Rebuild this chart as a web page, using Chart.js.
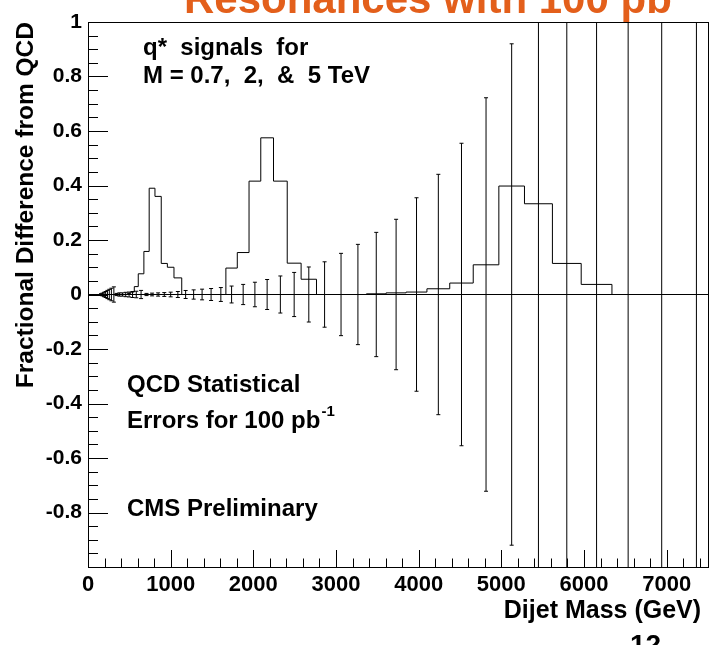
<!DOCTYPE html>
<html>
<head>
<meta charset="utf-8">
<title>q* signals - fractional difference from QCD</title>
<script src="https://cdn.jsdelivr.net/npm/chart.js@4.4.0/dist/chart.umd.min.js"></script>
<style>
    html, body { margin: 0; padding: 0; background: #fff; overflow: hidden; }
    #wrap { position: relative; width: 713px; height: 645px; overflow: hidden; }
</style>
</head>
<body>
<div id="wrap"><canvas id="chartCanvas" width="713" height="645"></canvas></div>
<script>
// dijet mass bin edges (GeV)
const binEdges = [150, 166, 184, 203, 224, 246, 270, 296, 330, 362, 398, 436, 476, 518, 560,
    608, 676, 740, 810, 886, 960, 1040, 1134, 1228, 1328, 1432, 1546, 1668, 1806, 1948, 2090,
    2244, 2410, 2578, 2764, 2960, 3162, 3368, 3606, 3848, 4100, 4376, 4660, 4970, 5280, 5618,
    5966, 6338, 6730, 7150, 7570];

// QCD statistical error for 100 pb^-1, one per bin
const qcdErrors = [0.003, 0.005, 0.008, 0.011, 0.015, 0.019, 0.023, 0.028,
    0.004, 0.006, 0.006, 0.008, 0.009, 0.011, 0.012, 0.015,
    0.004, 0.005, 0.006, 0.007,
    0.0086, 0.011, 0.0147, 0.017, 0.0196, 0.022, 0.0255,
    0.031, 0.037, 0.045, 0.055, 0.068, 0.081, 0.101, 0.120, 0.151, 0.184,
    0.228, 0.276, 0.355, 0.441, 0.555, 0.722, 0.920,
    1.2, 1.5, 2.0, 2.6, 3.5, 4.5];

// q* signals (fractional difference), starting at the given bin index
const qstar07Start = 12;
const qstar07 = [0.004, 0.009, 0.029, 0.076, 0.158, 0.390, 0.360, 0.114, 0.100, 0.061];
const qstar2Start = 27;
const qstar2 = [0.097, 0.154, 0.416, 0.575, 0.416, 0.115, 0.056];
const qstar5Start = 37;
const qstar5 = [0.0025, 0.006, 0.009, 0.021, 0.042, 0.109, 0.398, 0.333, 0.114, 0.037];

const xTickValues = [0, 1000, 2000, 3000, 4000, 5000, 6000, 7000];
const yTickValues = [-0.8, -0.6, -0.4, -0.2, 0, 0.2, 0.4, 0.6, 0.8, 1];

const FONT = '"Liberation Sans", Arial, Helvetica, sans-serif';

function binCenters() {
    return binEdges.slice(0, -1).map((e, i) => (e + binEdges[i + 1]) / 2);
}

// step outline of a histogram, closed down to zero at both ends
function histogramPoints(values, start) {
    const pts = [{ x: binEdges[start], y: 0 }];
    values.forEach((v, k) => pts.push({ x: binEdges[start + k], y: v }));
    pts.push({ x: binEdges[start + values.length], y: 0 });
    return pts;
}

function errorBarPoints() {
    const pts = [];
    binCenters().forEach((c, i) => {
        pts.push({ x: c, y: -qcdErrors[i] }, { x: c, y: qcdErrors[i] }, { x: c, y: null });
    });
    return pts;
}

function errorCapPoints() {
    const pts = [];
    binCenters().forEach((c, i) => {
        if (qcdErrors[i] < 1) pts.push({ x: c, y: -qcdErrors[i] }, { x: c, y: qcdErrors[i] });
    });
    return pts;
}

// ROOT style frame with ticks pointing inwards
const rootFrame = {
    id: 'rootFrame',
    afterDatasetsDraw(chart) {
        const { ctx, chartArea: a, scales: { x, y } } = chart;
        ctx.save();
        ctx.strokeStyle = '#000';
        ctx.lineWidth = 1;
        ctx.beginPath();
        for (let v = 0; v <= x.max; v += 200) {
            const px = Math.round(x.getPixelForValue(v)) + 0.5;
            const len = v % 1000 === 0 ? 17 : 8.5;
            ctx.moveTo(px, a.bottom);
            ctx.lineTo(px, a.bottom - len);
        }
        for (let i = -20; i <= 20; i++) {
            const py = Math.round(y.getPixelForValue(i * 0.05)) + 0.5;
            const len = i % 4 === 0 ? 20 : 10;
            ctx.moveTo(a.left, py);
            ctx.lineTo(a.left + len, py);
        }
        ctx.stroke();
        ctx.strokeRect(Math.round(a.left) + 0.5, Math.round(a.top) + 0.5,
            a.right - a.left, Math.round(a.bottom - a.top));
        ctx.restore();
    }
};

// text written inside the pad, plus the slide title / page number around it
const annotations = {
    id: 'annotations',
    afterDraw(chart) {
        const { ctx, chartArea: a } = chart;
        ctx.save();
        ctx.fillStyle = '#000';
        ctx.textBaseline = 'alphabetic';
        ctx.textAlign = 'left';
        ctx.font = `bold 24px ${FONT}`;
        ctx.fillText('q*  signals  for', a.left + 55, a.top + 33);
        ctx.fillText('M = 0.7,  2,  &  5 TeV', a.left + 55, a.top + 61);
        ctx.fillText('QCD Statistical', a.left + 39, a.top + 370);
        const line = 'Errors for 100 pb';
        ctx.fillText(line, a.left + 39, a.top + 406);
        const w = ctx.measureText(line).width;
        ctx.font = `bold 15px ${FONT}`;
        ctx.fillText('-1', a.left + 40 + w, a.top + 394);
        ctx.font = `bold 24px ${FONT}`;
        ctx.fillText('CMS Preliminary', a.left + 39, a.top + 494);

        ctx.fillStyle = '#E35F1B';
        ctx.font = `bold 42px ${FONT}`;
        ctx.fillText('Resonances with 100 pb', 184, 13);

        ctx.fillStyle = '#000';
        ctx.font = `bold 28px ${FONT}`;
        ctx.fillText('12', 630, 654);
        ctx.restore();
    }
};

const ctx = document.getElementById('chartCanvas').getContext('2d');

new Chart(ctx, {
    type: 'line',
    data: {
        datasets: [
            {
                label: 'QCD errors',
                data: errorBarPoints(),
                borderColor: '#000',
                borderWidth: 1,
                pointRadius: 0,
                spanGaps: false
            },
            {
                label: 'QCD error caps',
                type: 'scatter',
                data: errorCapPoints(),
                showLine: false,
                pointStyle: 'line',
                pointRadius: 2,
                borderColor: '#000',
                borderWidth: 1
            },
            {
                label: 'q* 0.7 TeV',
                data: histogramPoints(qstar07, qstar07Start),
                borderColor: '#000',
                borderWidth: 1,
                pointRadius: 0,
                stepped: 'before'
            },
            {
                label: 'q* 2 TeV',
                data: histogramPoints(qstar2, qstar2Start),
                borderColor: '#000',
                borderWidth: 1,
                pointRadius: 0,
                stepped: 'before'
            },
            {
                label: 'q* 5 TeV',
                data: histogramPoints(qstar5, qstar5Start),
                borderColor: '#000',
                borderWidth: 1,
                pointRadius: 0,
                stepped: 'before'
            }
        ]
    },
    options: {
        animation: false,
        responsive: false,
        maintainAspectRatio: false,
        layout: { padding: { top: 22, right: 0, bottom: 0, left: 0 } },
        plugins: {
            legend: { display: false },
            tooltip: { enabled: false }
        },
        scales: {
            x: {
                type: 'linear',
                min: 0,
                max: 7500,
                afterBuildTicks: (scale) => { scale.ticks = xTickValues.map(v => ({ value: v })); },
                afterFit: (scale) => { scale.height = 78; },
                grid: { display: false, drawTicks: false },
                border: { display: false },
                ticks: {
                    padding: 5,
                    color: '#000',
                    autoSkip: false,
                    maxRotation: 0,
                    font: { family: FONT, size: 22, weight: 'bold' },
                    callback: (v) => String(v)
                },
                title: {
                    display: true,
                    text: 'Dijet Mass (GeV) ',
                    align: 'end',
                    color: '#000',
                    font: { family: FONT, size: 25, weight: 'bold' },
                    padding: { top: 0, bottom: 19 }
                }
            },
            y: {
                type: 'linear',
                min: -1,
                max: 1,
                afterBuildTicks: (scale) => { scale.ticks = yTickValues.map(v => ({ value: v })); },
                afterFit: (scale) => { scale.width = 88; },
                grid: {
                    drawTicks: false,
                    lineWidth: 1,
                    color: (c) => (c.tick && c.tick.value === 0 ? '#000' : 'rgba(0,0,0,0)')
                },
                border: { display: false },
                ticks: {
                    padding: 6,
                    color: '#000',
                    autoSkip: false,
                    font: { family: FONT, size: 21, weight: 'bold' },
                    callback: (v) => String(Math.round(v * 10) / 10)
                },
                title: {
                    display: true,
                    text: 'Fractional Difference from QCD',
                    align: 'end',
                    color: '#000',
                    font: { family: FONT, size: 24.5, weight: 'bold' },
                    padding: { top: 12, bottom: 0 }
                }
            }
        }
    },
    plugins: [rootFrame, annotations]
});
</script>
</body>
</html>
